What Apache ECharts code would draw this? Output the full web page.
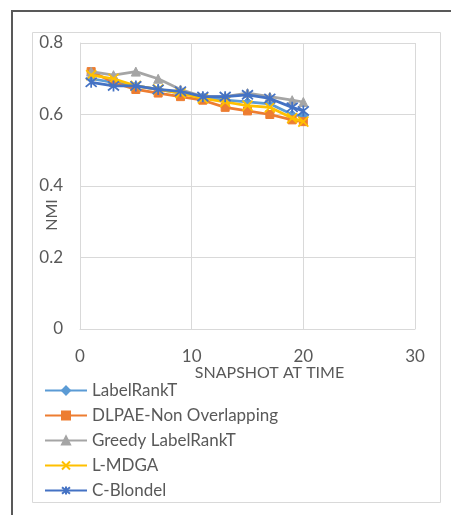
<!DOCTYPE html>
<html>
<head>
<meta charset="utf-8">
<script src="https://cdn.jsdelivr.net/npm/echarts@6/dist/echarts.min.js"></script>
<style>
html,body{margin:0;padding:0;background:#fff;}
#chart{width:451px;height:515px;}
</style>
</head>
<body>
<div id="chart"></div>
<script>
var seriesNames = ['LabelRankT', 'DLPAE-Non Overlapping', 'Greedy LabelRankT', 'L-MDGA', 'C-Blondel'];
var xVals = [1, 3, 5, 7, 9, 11, 13, 15, 17, 19, 20];
var labelRankT = [0.70, 0.69, 0.68, 0.67, 0.66, 0.65, 0.64, 0.635, 0.63, 0.60, 0.595];
var dlpae = [0.72, 0.69, 0.67, 0.66, 0.65, 0.64, 0.62, 0.61, 0.60, 0.585, 0.58];
var greedy = [0.72, 0.71, 0.72, 0.70, 0.67, 0.65, 0.65, 0.66, 0.65, 0.64, 0.635];
var lmdga = [0.71, 0.70, 0.68, 0.67, 0.66, 0.645, 0.635, 0.625, 0.62, 0.59, 0.58];
var cblondel = [0.69, 0.68, 0.68, 0.67, 0.665, 0.65, 0.65, 0.655, 0.645, 0.62, 0.61];
var xAxisTitle = 'SNAPSHOT AT TIME';
var yAxisTitle = 'NMI';

var colors = ['#5B9BD5', '#ED7D31', '#A5A5A5', '#FFC000', '#4472C4'];
var symbols = [
  'diamond',
  'rect',
  'triangle',
  'path://M0,0 L10,10 M10,0 L0,10',
  'path://M0,0 L10,10 M10,0 L0,10 M5,-1 L5,11'
];
var sizes = [9, 8, 9, 10, 11];
var allData = [labelRankT, dlpae, greedy, lmdga, cblondel];

function pairs(vals) {
  return xVals.map(function (x, i) { return [x, vals[i]]; });
}

var FONT = 'Lato, "Noto Sans", sans-serif';
var series = seriesNames.map(function (name, i) {
  var isPath = symbols[i].indexOf('path://') === 0;
  return {
    name: name,
    type: 'line',
    data: pairs(allData[i]),
    symbol: symbols[i],
    symbolSize: sizes[i],
    showAllSymbol: true,
    lineStyle: { color: colors[i], width: 2.75 },
    itemStyle: isPath
      ? { color: 'rgba(0,0,0,0)', borderColor: colors[i], borderWidth: 1.75 }
      : { color: colors[i], borderColor: colors[i], borderWidth: 1 },
    emphasis: { disabled: true },
    z: 2 + i
  };
});

var chart = echarts.init(document.getElementById('chart'), null, { renderer: 'canvas' });
chart.setOption({
  animation: false,
  backgroundColor: '#ffffff',
  textStyle: { fontFamily: FONT },
  grid: { left: 80, top: 43, right: 36, bottom: 186, containLabel: false },
  xAxis: {
    type: 'value',
    min: 0, max: 30, interval: 10,
    name: xAxisTitle,
    nameLocation: 'middle',
    nameGap: 36,
    nameMoveOverlap: false,
    nameTextStyle: { color: '#595959', fontSize: 16, fontFamily: FONT, padding: [0, 0, 0, 44] },
    axisLine: { show: true, lineStyle: { color: '#D9D9D9', width: 1 } },
    axisTick: { show: false },
    axisLabel: { color: '#595959', fontSize: 17, margin: 19, fontFamily: FONT },
    splitLine: { show: true, lineStyle: { color: '#D9D9D9', width: 1 } }
  },
  yAxis: {
    type: 'value',
    min: 0, max: 0.8, interval: 0.2,
    name: yAxisTitle,
    nameLocation: 'middle',
    nameRotate: 90,
    nameGap: 20,
    nameMoveOverlap: false,
    nameTextStyle: { color: '#595959', fontSize: 16, fontFamily: FONT, padding: [0, 58, 0, 0] },
    axisLine: { show: true, lineStyle: { color: '#D9D9D9', width: 1 } },
    axisTick: { show: false },
    axisLabel: { color: '#595959', fontSize: 17, margin: 17, fontFamily: FONT },
    splitLine: { show: true, lineStyle: { color: '#D9D9D9', width: 1 } }
  },
  legend: {
    orient: 'vertical',
    left: 44,
    top: 382,
    padding: 0,
    itemWidth: 42,
    itemHeight: 10,
    itemGap: 8,
    textStyle: { color: '#595959', fontSize: 17, fontFamily: FONT },
    data: seriesNames
  },
  graphic: [
    {
      type: 'rect',
      shape: { x: 12, y: 11, width: 460, height: 520 },
      style: { fill: 'none', stroke: '#595959', lineWidth: 2 },
      silent: true, z: -10
    },
    {
      type: 'rect',
      shape: { x: 32.5, y: 32.5, width: 408, height: 470 },
      style: { fill: 'none', stroke: '#D9D9D9', lineWidth: 1 },
      silent: true, z: -10
    }
  ],
  series: series
});
</script>
</body>
</html>
